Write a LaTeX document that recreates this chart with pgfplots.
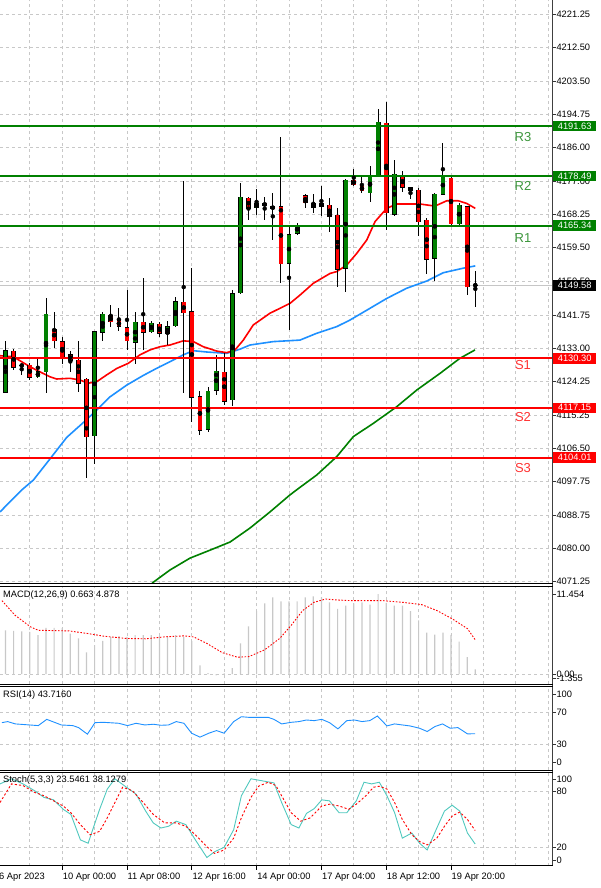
\documentclass[border=0pt]{standalone}
\usepackage{fontspec}
\setmainfont{Liberation Sans}
\usepackage{pgfplots}
\usepackage{pgfplotstable}
\pgfplotsset{compat=1.18}

\definecolor{mtgreen}{RGB}{0,128,0}
\definecolor{mtred}{RGB}{255,0,0}
\definecolor{mablue}{RGB}{30,144,255}
\definecolor{gridc}{RGB}{200,200,200}
\definecolor{rlab}{RGB}{60,150,60}
\definecolor{slab}{RGB}{255,50,50}
\definecolor{stochc}{RGB}{80,200,190}
\definecolor{macdbar}{RGB}{200,200,200}

\newcommand\tl{\fontsize{9.3}{10.5}\selectfont}

% H4 candles, x = bar index
\pgfplotstableread{
x o h l c
0 4121.3 4134.9 4121.0 4132.3
4 4125.4 4130.4 4125.2 4126.7
5 4126.7 4146.3 4121.2 4141.9
11 4109.8 4137.6 4102.4 4137.3
12 4137.2 4142.4 4134.9 4141.9
16 4134.5 4142.4 4128.7 4139.9
18 4137.3 4140.1 4136.9 4139.5
20 4136.9 4140.2 4133.8 4138.6
21 4138.9 4146.4 4138.6 4145.2
25 4111.5 4122.8 4110.9 4121.6
26 4121.9 4131.2 4120.6 4126.9
28 4119.3 4148.3 4117.7 4147.4
29 4147.6 4176.5 4147.3 4172.8
31 4170.1 4175.0 4168.2 4171.2
35 4155.4 4165.3 4137.8 4162.9
36 4163.3 4166.0 4162.8 4165.5
39 4170.5 4175.8 4167.9 4171.2
42 4154.1 4177.6 4147.9 4177.4
45 4174.0 4181.1 4171.7 4178.5
46 4178.7 4196.1 4178.5 4192.6
48 4168.3 4182.7 4168.0 4178.9
53 4156.7 4173.9 4150.7 4173.6
54 4173.6 4187.1 4173.4 4178.5
56 4165.9 4171.3 4165.5 4170.8
}\bull
\pgfplotstableread{
x o h l c
-1 4131.5 4133.0 4121.5 4130.0
1 4132.2 4132.8 4127.2 4127.9
2 4128.5 4128.8 4126.0 4128.3
3 4128.5 4129.0 4124.5 4125.3
6 4137.9 4142.6 4132.9 4134.9
7 4134.7 4135.8 4128.9 4130.7
8 4131.2 4132.3 4126.6 4129.8
9 4129.8 4134.9 4121.4 4123.7
10 4124.8 4125.0 4098.6 4109.6
13 4141.5 4144.4 4138.6 4139.9
14 4140.2 4143.5 4137.6 4138.7
15 4138.4 4148.3 4132.6 4134.9
17 4139.8 4151.4 4132.5 4137.2
19 4139.3 4139.8 4135.8 4136.9
22 4145.1 4177.2 4121.0 4142.3
23 4142.6 4154.1 4113.5 4120.0
24 4120.1 4121.6 4110.0 4111.3
27 4126.6 4131.6 4117.9 4119.0
30 4172.6 4172.9 4166.8 4169.9
32 4171.2 4172.9 4166.8 4170.7
33 4170.3 4174.1 4161.5 4169.9
34 4170.3 4188.7 4150.1 4155.2
37 4173.2 4173.7 4169.9 4171.4
38 4171.2 4173.6 4168.6 4170.2
40 4170.8 4172.6 4163.7 4167.7
41 4168.1 4170.1 4149.2 4153.8
43 4177.4 4180.2 4175.8 4176.1
44 4175.8 4178.3 4173.9 4174.5
47 4192.4 4198.1 4164.2 4168.8
49 4178.3 4179.9 4174.3 4175.5
50 4175.4 4175.6 4172.3 4174.5
51 4174.7 4175.2 4162.7 4166.4
52 4166.8 4167.3 4152.5 4156.5
55 4177.8 4178.1 4165.1 4165.8
57 4170.3 4170.5 4147.0 4149.2
58 4149.62 4153.4 4143.9 4149.58
}\bear

\pgfplotsset{
  mt/.style={scale only axis, width=552.5pt, xmin=-0.68, xmax=67.53,
    anchor=north west, axis line style={draw=none},
    xtick={3,7,...,67}, xticklabels={}, xtick style={draw=none},
    xmajorgrids, ymajorgrids,
    grid style={gridc, dash pattern=on 3pt off 3pt, line width=0.7pt},
    ytick pos=right, yticklabel pos=right, tick align=outside,
    major tick length=3pt, ytick style={black!80, line width=0.7pt},
    yticklabel style={font=\tl, inner sep=0pt, anchor=west, xshift=0.8pt},
    extra y tick style={grid=none}},
  wick/.style={only marks, mark=none, forget plot,
    error bars/.cd, y dir=both, y explicit, error mark=none,
    error bar style={black, line width=0.9pt}},
  body/.style 2 args={only marks, mark=none, forget plot,
    error bars/.cd, y dir=both, y explicit, error mark=none,
    error bar style={#1, line width=#2}},
}

\begin{document}
\begin{tikzpicture}
\useasboundingbox (0,0) rectangle (600pt,-888pt);

% ---------------- price panel ----------------
\begin{axis}[mt, at={(0pt,0pt)}, height=583.5pt,
  ymin=4070.79, ymax=4224.95,
  ytick={4221.25,4212.5,4203.5,4194.75,4186,4177,4168.25,4159.5,4150.5,4141.75,4133,4124.25,4115.25,4106.5,4097.75,4088.75,4080,4071.25},
  yticklabels={4221.25,4212.50,4203.50,4194.75,4186.00,4177.00,4168.25,4159.50,4150.50,4141.75,4133.00,4124.25,4115.25,4106.50,4097.75,4088.75,4080.00,4071.25}]
\addplot[gray!45, line width=0.8pt, forget plot] coordinates {(-1,4149.58) (68,4149.58)};
% slow MA
\addplot[mtgreen, line width=1.6pt] coordinates {
(18.1,4070.9) (20.3,4074.35) (22.78,4077.5) (25.25,4079.6) (27.72,4081.75) (30.19,4085.45)
(32.65,4089.7) (35.12,4094.2) (36.36,4096.2) (38.42,4099.45) (40.89,4104.3) (42.94,4109.6)
(45.41,4113.1) (48.3,4117.5) (50.77,4121.9) (53.64,4126.3) (56.11,4130.3) (57.96,4132.5)};
% medium MA
\addplot[mablue, line width=1.6pt] coordinates {
(-0.68,4089.7) (0.77,4092.85) (2.0,4095.5) (3.43,4098.1) (5.49,4103.7) (7.56,4109.4)
(9.6,4113.3) (11.26,4116.6) (12.9,4120.1) (14.96,4123.2) (17.0,4125.75) (18.67,4127.65)
(20.31,4129.4) (21.95,4131.2) (23.19,4132.3) (24.84,4131.95) (27.31,4131.6) (28.95,4132.7)
(30.19,4133.8) (33.06,4134.7) (36.36,4135.1) (38.42,4136.9) (40.89,4138.65) (42.53,4140.4)
(45.0,4143.5) (47.06,4146.1) (49.53,4148.8) (52.0,4150.7) (54.05,4152.9) (56.52,4154.1) (58.0,4154.7)};
% fast MA
\addplot[mtred, line width=1.6pt] coordinates {
(-0.68,4130.97) (0.96,4130.7) (3.02,4128.07) (4.26,4126.7) (5.49,4125.4) (6.32,4124.82)
(7.96,4125.0) (9.2,4124.55) (10.2,4123.7) (11.26,4124.1) (12.49,4125.9) (13.73,4127.6)
(15.16,4128.97) (16.6,4131.2) (17.84,4132.5) (19.07,4133.35) (20.3,4133.8) (21.95,4134.9)
(23.19,4134.7) (24.42,4133.35) (26.07,4132.2) (27.3,4131.77) (28.33,4132.48) (29.36,4135.1)
(30.59,4139.1) (32.65,4142.2) (33.89,4143.5) (35.12,4144.8) (36.36,4147.0) (38.0,4150.1)
(40.06,4152.7) (40.89,4153.2) (42.12,4154.9) (43.36,4158.0) (44.59,4161.5) (45.62,4166.4)
(47.06,4169.9) (48.3,4171.05) (51.17,4171.05) (53.02,4170.5) (54.47,4171.9) (55.9,4171.9)
(56.94,4171.2) (58.0,4169.9)};
% candles
\addplot[wick] table[x=x, y expr={(\thisrow{h}+\thisrow{l})/2}, y error expr={(\thisrow{h}-\thisrow{l})/2}] {\bull};
\addplot[wick] table[x=x, y expr={(\thisrow{h}+\thisrow{l})/2}, y error expr={(\thisrow{h}-\thisrow{l})/2}] {\bear};
\addplot[body={black}{4.8pt}] table[x=x, y expr={(\thisrow{o}+\thisrow{c})/2}, y error expr={abs(\thisrow{c}-\thisrow{o})/2+0.12}] {\bull};
\addplot[body={black}{4.8pt}] table[x=x, y expr={(\thisrow{o}+\thisrow{c})/2}, y error expr={abs(\thisrow{c}-\thisrow{o})/2+0.12}] {\bear};
\addplot[body={mtgreen}{3.6pt}] table[x=x, y expr={(\thisrow{o}+\thisrow{c})/2}, y error expr={abs(\thisrow{c}-\thisrow{o})/2}] {\bull};
\addplot[body={mtred}{3.6pt}] table[x=x, y expr={(\thisrow{o}+\thisrow{c})/2}, y error expr={abs(\thisrow{c}-\thisrow{o})/2}] {\bear};
% pivot levels
\addplot[mtgreen, line width=1.9pt] coordinates {(-1,4191.63) (68,4191.63)};
\addplot[mtgreen, line width=1.9pt] coordinates {(-1,4178.49) (68,4178.49)};
\addplot[mtgreen, line width=1.9pt] coordinates {(-1,4165.34) (68,4165.34)};
\addplot[mtred, line width=1.9pt] coordinates {(-1,4130.30) (68,4130.30)};
\addplot[mtred, line width=1.9pt] coordinates {(-1,4117.15) (68,4117.15)};
\addplot[mtred, line width=1.9pt] coordinates {(-1,4104.01) (68,4104.01)};
\end{axis}

% ---------------- MACD ----------------
\begin{axis}[mt, at={(0pt,-586pt)}, height=98.3pt, ymin=-1.475, ymax=12.6,
  ytick={0}, yticklabels={0.00},
  extra y ticks={11.454,-0.6}, extra y tick labels={11.454,-1.355}]
\addplot[ybar, bar width=1.2pt, fill=macdbar, draw=none] coordinates {
(0,6.26) (1,6.17) (2,6.12) (3,6.03) (4,5.56) (5,6.59) (6,6.59) (7,6.59) (8,5.79) (9,5.09)
(10,3.11) (11,4.14) (12,4.76) (13,5.32) (14,5.42) (15,5.32) (16,5.56) (17,5.56) (18,5.56) (19,5.42)
(20,5.32) (21,5.56) (22,5.32) (23,4.76) (24,1.22) (25,0.14) (26,-0.2) (27,0.1) (28,0.85) (29,4.38)
(30,6.83) (31,9.0) (32,10.13) (33,10.97) (34,10.41) (35,10.41) (36,10.41) (37,10.97) (38,11.1) (39,10.97)
(40,10.27) (41,9.33) (42,9.8) (43,10.13) (44,10.27) (45,9.94) (46,11.454) (47,10.17) (48,9.8) (49,9.8)
(50,9.0) (51,7.68) (52,5.93) (53,5.65) (54,5.93) (55,5.6) (56,4.62) (57,2.4) (58,0.663)};
\addplot[mtred, line width=0.9pt, dash pattern=on 1.6pt off 1.6pt] coordinates {
(-0.44,10.5) (1.21,8.38) (3.1,6.74) (4.05,6.26) (7.84,6.17) (10.2,5.79) (12.09,5.42) (14.93,5.09)
(17.3,5.04) (19.66,5.32) (22.03,5.46) (23.2,5.32) (24.86,4.38) (26.75,3.06) (28.65,2.4) (30.07,2.5)
(31.96,3.44) (33.85,5.09) (35.27,6.97) (36.69,9.09) (38.1,10.27) (39.53,10.74) (40.95,10.6)
(42.84,10.5) (46.62,10.5) (48.99,10.27) (51.36,9.94) (53.25,9.09) (55.14,7.91) (57.02,6.5) (58,4.878)};
\end{axis}

% ---------------- RSI ----------------
\begin{axis}[mt, at={(0pt,-686.7pt)}, height=83.3pt, ymin=-1.6, ymax=102.5,
  ytick={70,30}, yticklabels={70,30},
  extra y ticks={93,7.5}, extra y tick labels={100,0}]
\addplot[mablue, line width=0.9pt] coordinates {
(-0.44,57.6) (0.27,58.9) (1.21,56.0) (4.05,53.9) (5.09,61.7) (6.89,54.7) (8.31,53.9) (9.02,51.4)
(10.11,43.2) (11.05,57.6) (12.09,58.0) (13.98,56.8) (15.07,53.9) (16.11,56.8) (17.2,54.7) (18.24,55.6)
(19.19,54.3) (20.13,54.7) (21.08,58.9) (22.03,56.8) (22.97,44.4) (24.01,39.5) (25.1,44.4) (26.05,47.7)
(26.99,44.4) (28.17,58.9) (29.12,65.0) (30.07,64.2) (32.43,64.2) (33.14,61.7) (34.09,56.0) (35.27,58.0)
(36.22,58.9) (37.16,60.9) (38.11,60.1) (39.05,61.7) (40.0,57.6) (41.04,49.8) (42.13,60.1) (43.08,60.9)
(44.02,58.9) (44.97,60.1) (45.91,65.9) (47.09,53.5) (48.04,56.0) (48.99,54.7) (49.93,53.5) (51.12,50.6)
(52.06,46.5) (53.01,52.7) (53.95,56.0) (54.9,50.6) (55.85,51.4) (57.03,43.6) (57.98,43.716)};
\end{axis}

% ---------------- Stochastic ----------------
\begin{axis}[mt, at={(0pt,-772.3pt)}, height=93.4pt, ymin=0.15, ymax=100.9,
  ytick={80,20}, yticklabels={80,20},
  extra y ticks={93.7,6.3}, extra y tick labels={100,0}]
\addplot[stochc, line width=0.9pt] coordinates {
(-0.68,88.4) (0.74,93.9) (2.16,88.4) (3.58,81.1) (4.76,73.8) (5.94,71.2) (7.13,61.0) (8.07,55.5)
(9.25,28.0) (10.2,24.4) (11.62,61.0) (12.57,82.9) (13.51,93.9) (14.93,84.8) (16.11,77.4) (17.3,59.1)
(18.24,46.3) (19.19,40.8) (20.13,42.7) (21.08,48.2) (22.26,44.5) (23.44,28.0) (24.86,9.0) (25.81,15.2)
(26.99,20.0) (28.17,39.0) (29.12,75.6) (30.3,93.9) (31.96,91.3) (33.14,89.5) (34.09,68.3) (35.27,44.5)
(36.22,40.8) (37.16,56.6) (38.11,61.7) (39.05,71.2) (40.0,70.1) (41.18,57.3) (42.13,57.3) (43.31,70.1)
(44.26,90.2) (45.2,88.4) (46.15,90.2) (47.09,75.6) (48.04,57.3) (48.99,29.9) (50.17,35.4) (51.12,24.4)
(52.06,17.1) (53.25,40.8) (54.19,59.1) (55.14,65.4) (56.08,59.1) (57.03,35.4) (57.98,23.5461)};
\addplot[mtred, line width=0.9pt, dash pattern=on 2.2pt off 2pt] coordinates {
(-0.68,68.3) (0.74,88.4) (2.16,86.6) (3.58,79.3) (4.76,75.6) (5.94,70.1) (7.13,64.6) (8.07,57.3)
(9.25,44.5) (10.44,33.5) (11.62,37.2) (12.57,51.8) (13.51,68.3) (14.46,84.8) (15.64,81.1) (16.82,70.1)
(18.24,55.5) (19.66,46.3) (21.08,46.3) (22.26,42.7) (23.44,33.5) (24.86,20.7) (25.81,13.4) (26.99,17.1)
(28.17,29.9) (29.12,51.8) (30.3,73.8) (31.25,85.9) (32.43,90.2) (33.38,86.6) (34.32,72.0) (35.27,57.3)
(36.45,48.2) (37.63,51.8) (39.05,64.6) (40.0,66.5) (41.18,64.6) (42.37,61.0) (43.31,66.5) (44.49,75.6)
(45.44,84.8) (46.15,85.9) (47.09,82.9) (48.04,68.3) (48.99,50.0) (50.17,33.5) (51.12,26.2) (52.06,22.6)
(53.25,29.9) (54.19,42.7) (55.14,53.7) (56.08,58.0) (57.03,50.0) (57.98,38.1279)};
\end{axis}

% panel frames
\draw[black!75, line width=1.2pt] (552.5pt,0pt) -- (552.5pt,-865.7pt);
\foreach \yy in {583.5,586,684.3,686.7,770,772.3,865.7}
  \draw[black, line width=0.8pt] (0pt,-\yy pt) -- (552.5pt,-\yy pt);

% level tags on the price scale
\tikzset{tag/.style={anchor=west, inner sep=0pt, minimum width=43pt, minimum height=10.5pt,
  text=white, font=\tl}}
\node[tag, fill=mtgreen] at (553pt,-126.1pt) {4191.63};
\node[tag, fill=mtgreen] at (553pt,-175.9pt) {4178.49};
\node[tag, fill=mtgreen] at (553pt,-225.6pt) {4165.34};
\node[tag, fill=black] at (553pt,-285.3pt) {4149.58};
\node[tag, fill=mtred] at (553pt,-358.3pt) {4130.30};
\node[tag, fill=mtred] at (553pt,-407.8pt) {4117.15};
\node[tag, fill=mtred] at (553pt,-457.5pt) {4104.01};

% level names
\tikzset{lvl/.style={font=\fontsize{13}{14}\selectfont, inner sep=0pt}}
\node[lvl, text=rlab] at (523pt,-136.7pt) {R3};
\node[lvl, text=rlab] at (523pt,-186pt) {R2};
\node[lvl, text=rlab] at (523pt,-238.3pt) {R1};
\node[lvl, text=slab] at (523pt,-365pt) {S1};
\node[lvl, text=slab] at (523pt,-416.7pt) {S2};
\node[lvl, text=slab] at (523pt,-468.3pt) {S3};

% indicator titles
\node[anchor=west, font=\tl, inner sep=0pt] at (3pt,-595pt) {MACD(12,26,9) 0.663 4.878};
\node[anchor=west, font=\tl, inner sep=0pt] at (3pt,-695.5pt) {RSI(14) 43.7160};
\node[anchor=west, font=\tl, inner sep=0pt] at (3pt,-780pt) {Stoch(5,3,3) 23.5461 38.1279};

% time scale
\foreach \xx/\lab in {62.2/10 Apr 00:00, 127/11 Apr 08:00, 191.8/12 Apr 16:00, 256.6/14 Apr 00:00,
  321.4/17 Apr 04:00, 386.2/18 Apr 12:00, 451/19 Apr 20:00} {
  \draw[black, line width=0.7pt] (\xx pt,-865.7pt) -- (\xx pt,-869.5pt);
  \node[anchor=base west, font=\tl, inner sep=0pt] at (\xx pt + 0.5pt,-879.5pt) {\lab};
}
\node[anchor=base west, font=\tl, inner sep=0pt] at (-1pt,-879.5pt) {6 Apr 2023};
\end{tikzpicture}
\end{document}
